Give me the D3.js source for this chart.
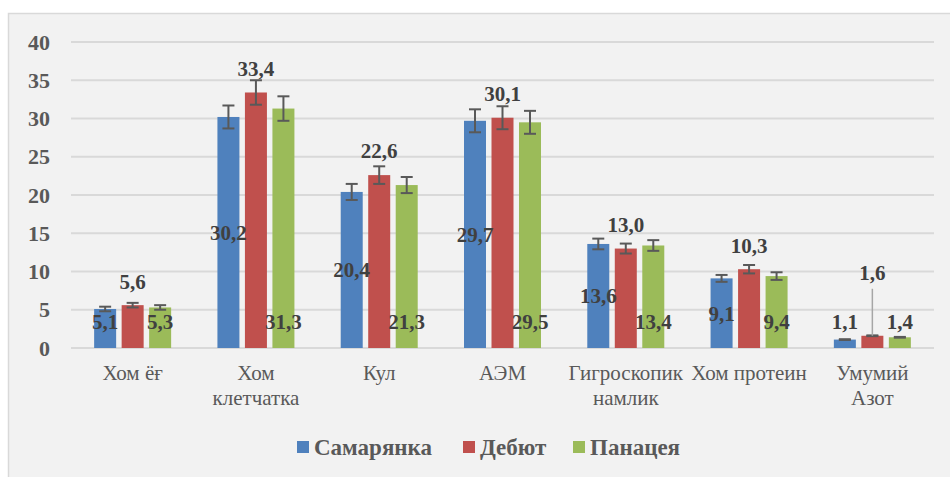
<!DOCTYPE html>
<html>
<head>
<meta charset="utf-8">
<script src="https://cdn.jsdelivr.net/npm/d3@7"></script>
<style>
  body { margin: 0; background: #fff; }
  svg { display: block; }
  text { font-family: "Liberation Serif", "Times New Roman", Times, "DejaVu Serif", serif; }
</style>
</head>
<body>
<svg id="chart" width="950" height="477"></svg>
<script>
const categories = [["Хом ёғ"], ["Хом", "клетчатка"], ["Кул"], ["АЭМ"], ["Гигроскопик", "намлик"], ["Хом протеин"], ["Умумий", "Азот"]];
const seriesNames = ["Самарянка", "Дебют", "Панацея"];
const colors = ["#4f81bd", "#c0504d", "#9bbb59"];

const samaryanka = [5.1, 30.2, 20.4, 29.7, 13.6, 9.1, 1.1];
const debyut = [5.6, 33.4, 22.6, 30.1, 13.0, 10.3, 1.6];
const panaceya = [5.3, 31.3, 21.3, 29.5, 13.4, 9.4, 1.4];

const errSamaryanka = [0.3, 1.5, 1.05, 1.5, 0.7, 0.45, 0.05];
const errDebyut = [0.3, 1.6, 1.15, 1.5, 0.65, 0.55, 0.05];
const errPanaceya = [0.3, 1.6, 1.05, 1.5, 0.7, 0.5, 0.05];

const yTicks = [0, 5, 10, 15, 20, 25, 30, 35, 40];

const values = [samaryanka, debyut, panaceya];
const errors = [errSamaryanka, errDebyut, errPanaceya];

const svg = d3.select("#chart");
const plotLeft = 71, plotRight = 934, plotTop = 42, plotBottom = 348;

// chart area
svg.append("rect")
  .attr("x", 8.5).attr("y", 13.5)
  .attr("width", 960).attr("height", 500)
  .attr("fill", "#f2f2f2")
  .attr("stroke", "#d9d9d9")
  .attr("stroke-width", 1.5);

const y = d3.scaleLinear().domain([0, 40]).range([plotBottom, plotTop]);
const x = d3.scaleBand().domain(d3.range(categories.length)).range([plotLeft, plotRight]);
const groupW = 77;
const x1 = d3.scaleBand().domain(d3.range(3)).range([0, groupW]).paddingInner(0.2);
const groupOff = (x.bandwidth() - groupW) / 2;

// gridlines
svg.append("g").selectAll("line")
  .data(yTicks)
  .enter().append("line")
  .attr("x1", plotLeft).attr("x2", plotRight)
  .attr("y1", d => y(d)).attr("y2", d => y(d))
  .attr("stroke", "#d9d9d9")
  .attr("stroke-width", 2);

// y tick labels
svg.append("g").selectAll("text")
  .data(yTicks)
  .enter().append("text")
  .attr("x", 50)
  .attr("y", d => y(d))
  .attr("dy", "0.35em")
  .attr("text-anchor", "end")
  .style("font-weight", "bold")
  .style("font-size", "22px")
  .attr("fill", "#595959")
  .text(d => d);

// flatten bars
const bars = [];
values.forEach((arr, s) => {
  arr.forEach((v, i) => {
    bars.push({ s: s, i: i, v: v, e: errors[s][i], cx: x(i) + groupOff + x1(s) + x1.bandwidth() / 2 });
  });
});

svg.append("g").selectAll("rect")
  .data(bars)
  .enter().append("rect")
  .attr("x", d => d.cx - x1.bandwidth() / 2)
  .attr("y", d => y(d.v))
  .attr("width", x1.bandwidth())
  .attr("height", d => y(0) - y(d.v))
  .attr("fill", d => colors[d.s]);

// error bars
const capW = 12;
const eg = svg.append("g").attr("stroke", "#595959").attr("stroke-width", 2);
bars.forEach(d => {
  eg.append("line").attr("x1", d.cx).attr("x2", d.cx).attr("y1", y(d.v + d.e)).attr("y2", y(d.v - d.e));
  eg.append("line").attr("x1", d.cx - capW / 2).attr("x2", d.cx + capW / 2).attr("y1", y(d.v + d.e)).attr("y2", y(d.v + d.e));
  eg.append("line").attr("x1", d.cx - capW / 2).attr("x2", d.cx + capW / 2).attr("y1", y(d.v - d.e)).attr("y2", y(d.v - d.e));
});

// data labels: blue centred, red outside end, green inside base
const fmt = v => v.toFixed(1).replace(".", ",");
const baseY = y(0) - 26;
function labelY(d) {
  if (d.s === 0) return Math.min(y(d.v / 2), baseY);
  if (d.s === 1) return (d.i === 6) ? y(d.v) - 63 : y(d.v) - 24;
  return baseY;
}

// leader line for moved label
const moved = bars.find(d => d.s === 1 && d.i === 6);
svg.append("line")
  .attr("x1", moved.cx).attr("x2", moved.cx)
  .attr("y1", labelY(moved) + 16).attr("y2", y(moved.v))
  .attr("stroke", "#a6a6a6").attr("stroke-width", 1.5);

svg.append("g").selectAll("text")
  .data(bars)
  .enter().append("text")
  .attr("x", d => d.cx)
  .attr("y", d => labelY(d))
  .attr("dy", "0.35em")
  .attr("text-anchor", "middle")
  .style("font-weight", "bold")
  .style("font-size", "21px")
  .attr("fill", "#404040")
  .text(d => fmt(d.v));

// category labels
const cat = svg.append("g").selectAll("text")
  .data(categories)
  .enter().append("text")
  .attr("x", (d, i) => x(i) + x.bandwidth() / 2)
  .attr("y", 373)
  .attr("text-anchor", "middle")
  .style("font-size", "21px")
  .attr("fill", "#595959");
cat.selectAll("tspan")
  .data(d => d)
  .enter().append("tspan")
  .attr("x", function() { return d3.select(this.parentNode).attr("x"); })
  .attr("dy", (d, j) => j === 0 ? "0.35em" : "25px")
  .text(d => d);

// legend
const legendX = [297, 463, 573];
const lg = svg.append("g");
seriesNames.forEach((name, s) => {
  lg.append("rect")
    .attr("x", legendX[s]).attr("y", 441)
    .attr("width", 12).attr("height", 12)
    .attr("fill", colors[s]);
  lg.append("text")
    .attr("x", legendX[s] + 17).attr("y", 447)
    .attr("dy", "0.35em")
    .style("font-weight", "bold")
    .style("font-size", "23px")
    .attr("fill", "#595959")
    .text(name);
});
</script>
</body>
</html>
